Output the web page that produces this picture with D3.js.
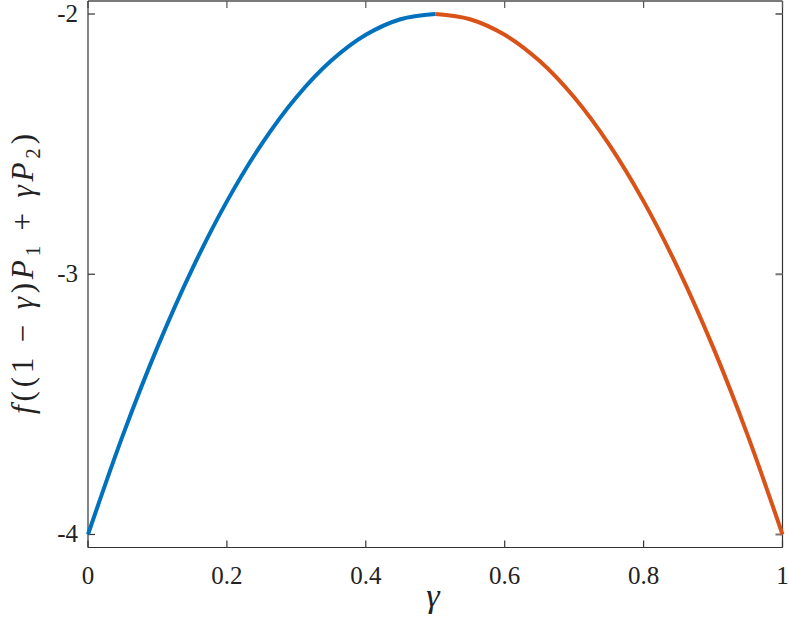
<!DOCTYPE html>
<html><head><meta charset="utf-8">
<script src="https://cdn.jsdelivr.net/npm/d3@7"></script>
<style>body{margin:0;background:#fff}svg{display:block}
text{font-family:"Liberation Serif","DejaVu Serif","Times New Roman",serif;}
</style>
</head><body>
<script>
const gammaLeft = [0,0.05,0.1,0.15,0.2,0.25,0.3,0.35,0.4,0.45,0.5];
const fLeft = [-4,-3.62,-3.28,-2.98,-2.72,-2.5,-2.32,-2.18,-2.08,-2.02,-2];
const gammaRight = [0.5,0.55,0.6,0.65,0.7,0.75,0.8,0.85,0.9,0.95,1];
const fRight = [-2,-2.02,-2.08,-2.18,-2.32,-2.5,-2.72,-2.98,-3.28,-3.62,-4];
const xTicks = [0,0.2,0.4,0.6,0.8,1];
const xTickLabels = ["0","0.2","0.4","0.6","0.8","1"];
const yTicks = [-4,-3,-2];
const yTickLabels = ["-4","-3","-2"];

const W=789,H=623;
const L=88,R=782.5,T=1,B=547.5;
const svg=d3.select("body").append("svg").attr("width",W).attr("height",H);
const x=d3.scaleLinear().domain([0,1]).range([L,R]);
const y=d3.scaleLinear().domain([-4.05,-1.95]).range([B,T]);

svg.append("line").attr("x1",L).attr("x2",R).attr("y1",T).attr("y2",T).attr("stroke","#7a7a7a").attr("stroke-width",2);
svg.append("line").attr("x1",R).attr("x2",R).attr("y1",T).attr("y2",B).attr("stroke","#333").attr("stroke-width",1.2);
const tl=7;
xTicks.forEach(v=>{
  svg.append("line").attr("x1",x(v)).attr("x2",x(v)).attr("y1",B).attr("y2",B-tl).attr("stroke","#333").attr("stroke-width",1.2);
  svg.append("line").attr("x1",x(v)).attr("x2",x(v)).attr("y1",T).attr("y2",T+tl).attr("stroke","#555").attr("stroke-width",1.2);
});
yTicks.forEach(v=>{
  svg.append("line").attr("x1",L).attr("x2",L+tl).attr("y1",y(v)).attr("y2",y(v)).attr("stroke","#333").attr("stroke-width",1.2);
  svg.append("line").attr("x1",R).attr("x2",R-tl).attr("y1",y(v)).attr("y2",y(v)).attr("stroke","#777").attr("stroke-width",2);
});
svg.append("line").attr("x1",L).attr("x2",L).attr("y1",T).attr("y2",B).attr("stroke","#333").attr("stroke-width",1.2);
svg.append("line").attr("x1",L).attr("x2",R).attr("y1",B).attr("y2",B).attr("stroke","#333").attr("stroke-width",1.2);

xTicks.forEach((v,i)=>{
  svg.append("text").attr("x",x(v)).attr("y",584).attr("text-anchor","middle")
    .attr("font-size",25).attr("fill","#222").text(xTickLabels[i]);
});
yTicks.forEach((v,i)=>{
  svg.append("text").attr("x",78).attr("y",y(v)+8).attr("text-anchor","end")
    .attr("font-size",25).attr("fill","#222").text(yTickLabels[i]);
});

const line=d3.line().x(d=>x(d[0])).y(d=>y(d[1])).curve(d3.curveCatmullRom.alpha(0.5));
svg.append("path").datum(gammaLeft.map((g,i)=>[g,fLeft[i]])).attr("d",line)
  .attr("fill","none").attr("stroke","#0072BD").attr("stroke-width",4);
svg.append("path").datum(gammaRight.map((g,i)=>[g,fRight[i]])).attr("d",line)
  .attr("fill","none").attr("stroke","#D95319").attr("stroke-width",4);

svg.append("text").attr("x",433).attr("y",607).attr("text-anchor","middle")
  .attr("font-size",34).attr("font-style","italic").attr("fill","#222").text("γ");

const yl=svg.append("text").attr("transform","translate(33,274) rotate(-90)").attr("text-anchor","middle")
  .attr("font-size",31).attr("fill","#222")
  .attr("textLength",280).attr("lengthAdjust","spacing");
const parts=[["f",1],["((1 − ",0],["γ",1],[")",0],["P",1],["1",2],[" + ",0],["γ",1],["P",1],["2",2],[")",0]];
parts.forEach(([t,s],i)=>{
  const ts=yl.append("tspan").text(t);
  if(s===1) ts.attr("font-style","italic");
  if(s===2) ts.attr("font-size",21).attr("dy",7);
  if(i>0 && parts[i-1][1]===2 && s!==2) ts.attr("dy",-7);
});
</script>
</body></html>
